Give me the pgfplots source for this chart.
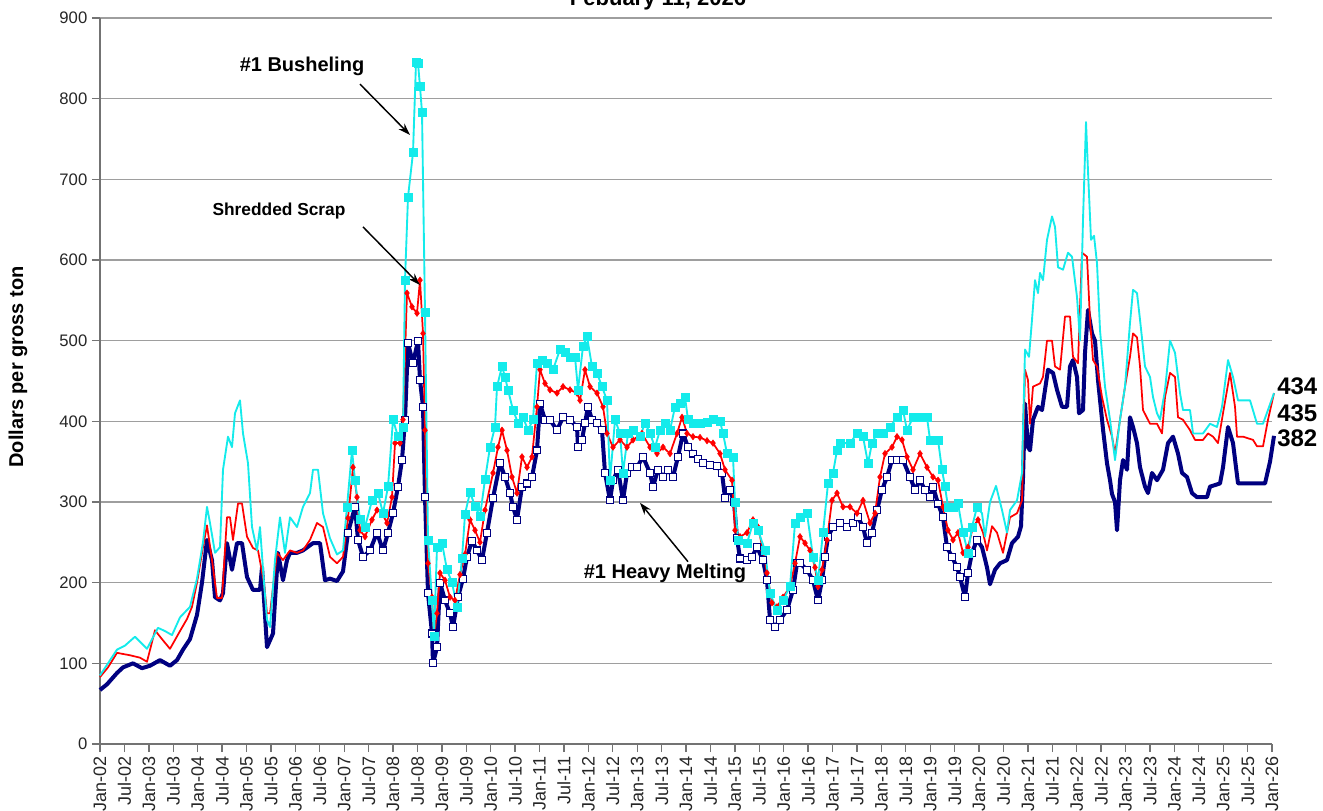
\documentclass[border=0pt]{standalone}
\usepackage{fontspec}
\setmainfont{Liberation Sans}
\usepackage{pgfplots}
\usepackage{pgfplotstable}
\pgfplotsset{compat=1.18}
\usetikzlibrary{arrows.meta}
\definecolor{hmsnavy}{RGB}{0,0,128}
\definecolor{shred}{RGB}{255,0,0}
\definecolor{bush}{RGB}{20,235,235}
\pgfplotstableread{
x y
100 67
107 74
117 88
123 95
133 100
142 94
150 97
160 104
170 97
177 104
183 117
190 130
197 160
202 200
207 253
212 228
215 182
220 178
223 187
227 249
232 216
237 249
242 249
247 207
253 191
260 191
262 219
265 160
267 120
273 137
278 237
283 203
287 228
290 237
297 237
303 240
313 249
320 249
325 203
330 205
337 202
343 214
348 262
355 294
358 253
363 232
370 240
377 262
383 240
388 262
393 286
398 319
402 352
405 402
408 497
413 472
418 500
420 451
423 418
425 306
428 187
432 137
433 100
437 120
440 200
445 178
450 162
453 145
458 182
463 205
467 232
472 252
477 240
482 228
487 262
493 305
500 348
505 331
510 311
513 294
517 278
522 319
527 323
532 331
537 364
540 422
545 402
550 402
557 389
563 405
570 402
577 393
578 368
582 377
585 398
588 418
592 402
597 398
602 389
605 336
610 302
613 327
618 340
623 302
627 336
632 343
637 343
643 356
650 336
653 319
658 340
663 331
668 340
673 331
678 356
683 385
688 368
693 360
698 353
703 348
710 346
717 345
722 336
725 305
730 315
734 300
737 255
740 230
747 228
752 232
757 244
763 228
767 203
770 154
775 145
780 154
787 166
793 191
797 224
800 224
807 216
813 203
818 178
822 203
825 232
828 257
833 269
840 274
847 269
853 274
858 281
863 269
867 249
872 262
877 290
882 315
887 331
892 352
897 352
903 352
910 331
915 315
920 327
925 315
930 306
933 319
938 298
943 281
947 244
952 232
957 219
960 207
965 182
968 212
972 237
977 253
982 244
987 219
990 198
995 216
1000 224
1007 228
1012 249
1018 257
1021 270
1023 330
1025 422
1028 368
1030 364
1033 402
1038 418
1042 414
1045 439
1048 464
1053 460
1057 439
1062 418
1067 418
1070 468
1073 476
1077 455
1079 410
1083 414
1085 485
1088 538
1092 509
1095 500
1098 451
1103 390
1107 348
1110 327
1112 310
1115 300
1117 265
1120 327
1123 352
1127 340
1130 405
1133 393
1137 373
1140 343
1145 319
1148 311
1152 336
1157 327
1163 340
1168 373
1173 381
1178 360
1182 336
1187 331
1192 311
1197 306
1207 306
1210 319
1220 323
1223 343
1228 393
1233 373
1238 323
1250 323
1265 323
1270 350
1274 382
}\hms
\pgfplotstableread{
x y
100 83
108 95
117 113
130 110
140 107
147 102
155 141
162 130
170 118
180 140
187 155
192 170
197 200
203 244
207 271
213 219
217 181
222 181
227 281
230 281
233 253
238 298
242 298
247 257
253 243
258 240
264 200
267 162
270 162
277 237
283 228
290 240
297 237
303 240
310 253
317 274
323 269
330 232
337 224
343 232
348 280
353 343
357 306
360 265
365 257
372 278
377 290
382 286
387 274
392 306
395 373
400 373
403 402
407 559
412 542
417 534
420 575
423 509
425 389
428 224
432 182
434 133
437 162
440 212
445 203
450 182
455 178
460 210
465 235
470 278
475 265
480 250
485 290
493 336
498 368
502 389
507 364
512 331
517 311
522 356
527 343
532 356
537 418
540 464
545 447
550 439
557 435
563 443
570 439
577 435
580 426
585 464
590 443
597 435
603 418
607 385
613 368
620 377
627 368
633 377
642 385
650 368
657 360
663 368
670 360
677 385
682 405
687 385
693 381
700 380
707 376
713 373
720 360
725 340
732 327
735 265
740 257
747 262
753 278
758 269
763 240
767 212
772 175
777 170
783 182
790 195
795 224
800 257
805 249
810 240
815 219
818 195
822 216
827 253
832 302
837 311
843 294
850 294
857 286
863 302
870 274
875 286
880 331
885 360
892 368
897 381
902 377
907 356
913 340
920 360
927 343
933 331
938 327
943 294
948 265
953 253
958 262
963 237
968 244
973 269
978 278
983 262
987 240
992 270
997 262
1003 237
1010 281
1017 286
1022 302
1025 464
1028 451
1030 397
1033 443
1040 447
1043 455
1047 500
1052 500
1055 468
1060 464
1065 530
1070 530
1073 480
1078 472
1082 609
1087 604
1090 526
1093 476
1097 468
1102 430
1107 402
1112 381
1115 360
1120 402
1125 443
1130 480
1133 509
1137 504
1140 468
1143 414
1150 397
1157 397
1162 385
1165 430
1170 460
1175 455
1178 405
1183 402
1190 389
1195 377
1203 377
1208 385
1213 381
1218 373
1223 410
1230 460
1235 418
1237 381
1243 381
1253 377
1257 369
1263 369
1268 402
1274 435
}\shr
\pgfplotstableread{
x y
100 85
108 100
117 117
125 122
135 133
147 118
158 144
165 140
172 135
180 157
190 170
197 205
203 250
207 294
210 274
215 237
220 244
223 340
228 381
232 368
235 410
240 426
243 385
248 348
252 269
257 240
260 269
264 200
267 154
270 145
275 228
280 281
285 237
290 281
297 269
303 294
310 311
313 340
318 340
323 286
330 255
337 235
343 240
347 294
352 364
355 327
360 278
365 269
372 302
378 311
383 286
388 319
393 402
398 381
403 393
405 575
408 678
413 733
416 845
418 844
420 815
422 783
425 535
428 253
432 178
434 133
437 244
442 249
447 216
452 200
457 170
462 230
465 285
470 312
475 295
480 282
485 328
490 368
495 393
497 443
502 468
505 455
508 439
513 414
518 398
523 405
528 389
533 402
537 472
542 476
547 472
553 464
560 489
565 485
570 480
575 480
578 439
583 493
587 505
592 468
597 460
602 443
607 426
610 327
615 402
620 385
623 336
628 385
633 389
640 381
645 398
650 385
655 368
660 389
665 398
670 389
675 418
680 422
685 430
688 402
693 398
700 398
707 399
713 402
720 400
723 385
727 360
733 356
735 300
738 253
747 249
753 274
758 265
765 240
770 187
777 166
783 178
790 195
795 274
800 281
807 286
813 232
818 203
823 262
828 323
833 336
837 364
840 373
850 373
857 385
863 381
868 348
872 373
877 385
883 385
890 393
897 405
903 414
907 389
913 405
920 405
927 405
930 377
938 377
942 340
945 319
948 294
953 294
958 298
963 262
968 237
972 269
977 294
982 286
985 257
990 300
996 320
1002 290
1007 262
1010 290
1017 302
1022 336
1025 489
1029 480
1032 526
1035 575
1038 559
1040 584
1043 575
1047 625
1052 654
1055 641
1058 591
1063 588
1068 609
1072 604
1077 554
1080 500
1083 650
1086 771
1088 710
1091 625
1094 630
1097 596
1100 513
1105 443
1110 402
1115 352
1120 402
1125 443
1130 522
1133 563
1137 559
1140 526
1145 468
1150 455
1153 430
1157 410
1160 402
1165 439
1170 500
1175 485
1180 435
1183 414
1190 414
1193 385
1203 385
1210 397
1217 393
1222 418
1228 476
1233 455
1238 426
1250 426
1257 397
1263 397
1274 435
}\bsh
\begin{document}
\begin{tikzpicture}
\useasboundingbox (-75pt,-49.5pt) rectangle (917.25pt,558pt);
\begin{axis}[
  at={(0pt,0pt)}, anchor=south west,
  scale only axis, width=879pt, height=544.5pt,
  xmin=100, xmax=1272, ymin=0, ymax=900,
  clip=false,
  axis lines=left,
  axis line style={-, draw=black!55, line width=1.1pt},
  ytick={0,100,...,900},
  ymajorgrids,
  major grid style={draw=black!38, line width=1.1pt},
  xtick={100,124.4167,...,1273},
  xticklabels={Jan-02,Jul-02,Jan-03,Jul-03,Jan-04,Jul-04,Jan-05,Jul-05,Jan-06,Jul-06,Jan-07,Jul-07,Jan-08,Jul-08,Jan-09,Jul-09,Jan-10,Jul-10,Jan-11,Jul-11,Jan-12,Jul-12,Jan-13,Jul-13,Jan-14,Jul-14,Jan-15,Jul-15,Jan-16,Jul-16,Jan-17,Jul-17,Jan-18,Jul-18,Jan-19,Jul-19,Jan-20,Jul-20,Jan-21,Jul-21,Jan-22,Jul-22,Jan-23,Jul-23,Jan-24,Jul-24,Jan-25,Jul-25,Jan-26},
  x tick label style={rotate=90, anchor=east, font=\fontsize{13.5}{14}\selectfont, text=black!85},
  y tick label style={font=\fontsize{12.5}{13}\selectfont, text=black!85, /pgf/number format/assume math mode=true},
  tick align=outside,
  major tick length=6pt,
  tick style={draw=black!55, line width=1pt},
]
\addplot[hmsnavy, line width=3pt, line join=round] table[x=x,y=y] {\hms};
\addplot[only marks, mark=square*, mark size=2.6pt, mark options={fill=white, draw=hmsnavy, line width=0.9pt}, restrict x to domain=344:980] table[x=x,y=y] {\hms};
\addplot[shred, line width=1.3pt, line join=round] table[x=x,y=y] {\shr};
\addplot[only marks, mark=diamond*, mark size=2.4pt, mark options={fill=shred, draw=shred}, restrict x to domain=344:980] table[x=x,y=y] {\shr};
\addplot[bush, line width=1.4pt, line join=round] table[x=x,y=y] {\bsh};
\addplot[only marks, mark=square*, mark size=3pt, mark options={fill=bush, draw=bush}, restrict x to domain=344:980] table[x=x,y=y] {\bsh};
\node[font=\bfseries\fontsize{15}{16}\selectfont] at (axis cs:302,840) {\#1 Busheling};
\draw[-{Stealth[length=9pt,width=6pt]}, line width=1.1pt] (axis cs:360,818) -- (axis cs:410,755);
\node[font=\bfseries\fontsize{13}{15}\selectfont] at (axis cs:279,661) {Shredded Scrap};
\draw[-{Stealth[length=9pt,width=6pt]}, line width=1.1pt] (axis cs:363,641) -- (axis cs:420,569);
\node[font=\bfseries\fontsize{15}{16}\selectfont] at (axis cs:665,212) {\#1 Heavy Melting};
\draw[-{Stealth[length=9pt,width=6pt]}, line width=1.1pt] (axis cs:688,226) -- (axis cs:640,299);
\node[anchor=west, inner sep=0pt, font=\bfseries\fontsize{18}{19}\selectfont] at (axis cs:1277,444) {434};
\node[anchor=west, inner sep=0pt, font=\bfseries\fontsize{18}{19}\selectfont] at (axis cs:1277,410) {435};
\node[anchor=west, inner sep=0pt, font=\bfseries\fontsize{18}{19}\selectfont] at (axis cs:1277,379) {382};
\end{axis}
\node[anchor=base, font=\bfseries\fontsize{16.5}{18}\selectfont] at (418.5pt,553.5pt) {Febuary 11, 2026};
\node[rotate=90, font=\bfseries\fontsize{15}{16}\selectfont] at (-61.5pt,282.75pt) {Dollars per gross ton};
\end{tikzpicture}
\end{document}
